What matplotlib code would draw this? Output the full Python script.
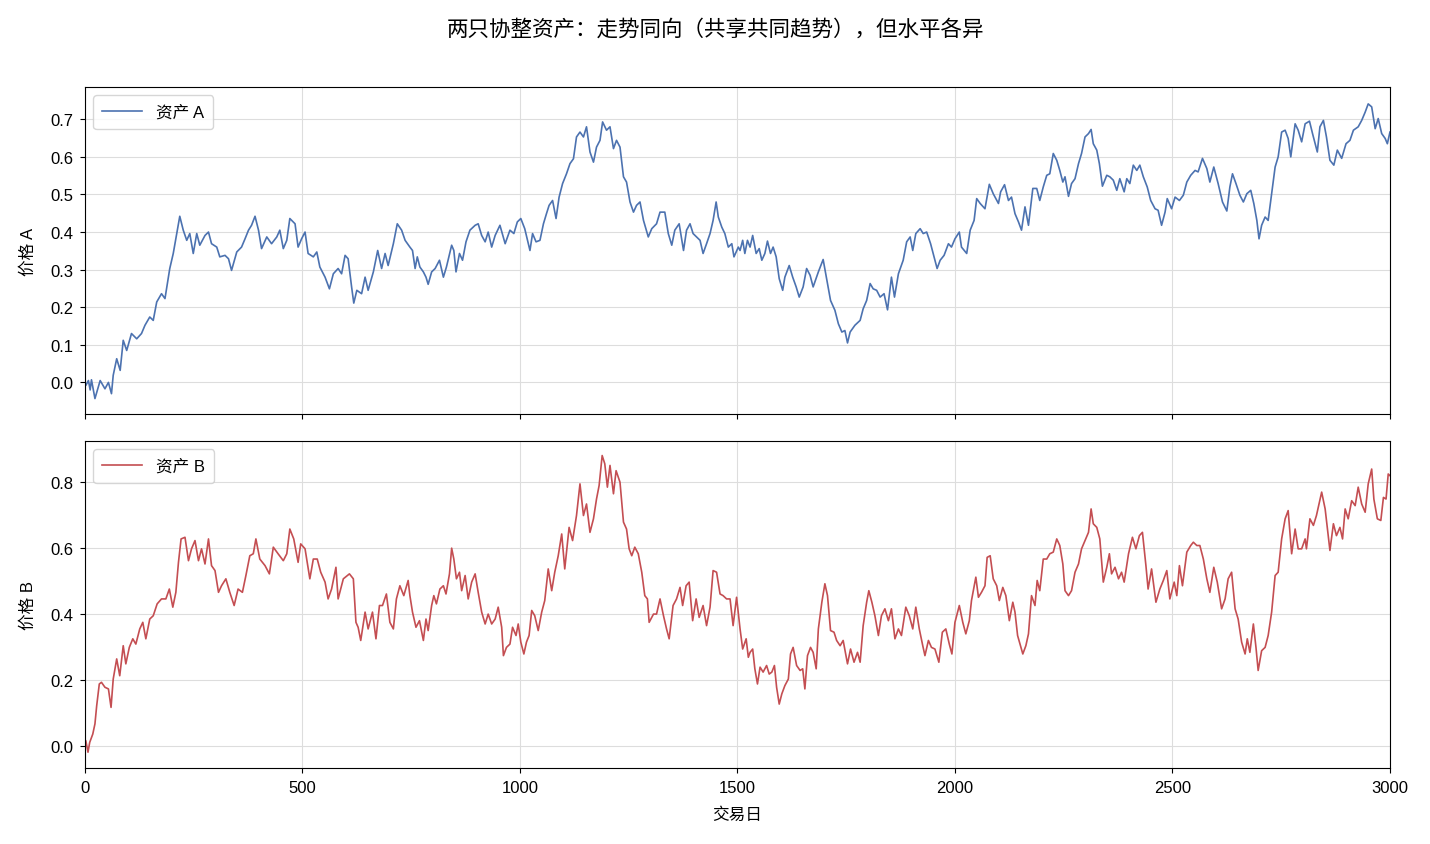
import matplotlib
matplotlib.use("Agg")
import matplotlib.pyplot as plt

plt.rcParams['font.family'] = ['Liberation Sans', 'Noto Sans CJK SC', 'DejaVu Sans']
plt.rcParams['axes.unicode_minus'] = False

title = "两只协整资产：走势同向（共享共同趋势），但水平各异"
xlabel = "交易日"
ylabel_a = "价格 A"
ylabel_b = "价格 B"
label_a = "资产 A"
label_b = "资产 B"

days_a = [0, 2, 8, 12, 15, 23, 35, 46, 54, 61, 65, 73, 81, 88, 96, 107, 119, 130, 138, 149, 157, 165, 176, 184,
          195, 203, 211, 218, 226, 234, 241, 249, 257, 264, 276, 284, 291, 303, 310, 322, 330, 337, 349, 360,
          368, 376, 383, 391, 399, 406, 418, 429, 441, 448, 456, 464, 471, 483, 490, 498, 506, 513, 525, 533,
          540, 552, 562, 571, 582, 590, 598, 605, 613, 618, 625, 636, 644, 651, 663, 673, 682, 690, 697, 709,
          718, 728, 736, 747,
          753, 759, 764, 770, 778, 784, 789, 797, 805, 815, 824, 831, 843, 848, 853, 861, 868, 876, 885, 897,
          904, 912, 920, 927, 935, 943, 954, 966, 977, 986, 994, 1002, 1011, 1023, 1029, 1037, 1046, 1054,
          1061, 1067, 1075, 1083, 1090, 1098, 1107, 1115, 1123, 1130, 1138, 1146, 1153, 1161, 1169, 1176,
          1184, 1190, 1199, 1207, 1215, 1222, 1230, 1238, 1245, 1253, 1261, 1268, 1276, 1284, 1295, 1303,
          1314, 1322, 1333, 1341, 1349, 1356, 1366, 1376, 1383, 1391, 1398, 1406, 1414, 1421, 1429, 1437,
          1444, 1451, 1456, 1464, 1471, 1479, 1487, 1492, 1502,
          1506, 1512, 1517, 1523, 1529, 1535, 1543, 1550, 1556, 1563, 1569, 1576, 1582, 1589, 1596, 1604,
          1609, 1619, 1627, 1635, 1642, 1651, 1659, 1667, 1674, 1686, 1697, 1707, 1714, 1724, 1732, 1740,
          1747, 1753, 1759, 1770, 1782, 1789, 1797, 1805, 1812, 1820, 1828, 1837, 1845, 1854, 1861, 1870,
          1881, 1889, 1897, 1903, 1910, 1920, 1927, 1935, 1944, 1950, 1959, 1966, 1975, 1985, 1992, 2000,
          2010, 2015, 2027, 2035, 2044, 2050, 2058, 2069, 2079, 2088, 2100, 2105, 2114, 2123, 2130, 2138,
          2146, 2153, 2161, 2169, 2179, 2188, 2195, 2203, 2211, 2218, 2226, 2234,
          2241, 2248, 2253, 2261, 2268, 2276, 2284, 2291, 2299, 2307, 2313, 2318, 2326, 2332, 2339, 2349,
          2356, 2364, 2372, 2379, 2389, 2395, 2402, 2410, 2418, 2425, 2433, 2442, 2450, 2460, 2467, 2475,
          2483, 2488, 2498, 2506, 2516, 2525, 2533, 2542, 2552, 2559, 2569, 2579, 2586, 2595, 2605, 2615,
          2625, 2632, 2638, 2646, 2655, 2663, 2671, 2680, 2687, 2694, 2699, 2705, 2713, 2720, 2728, 2736,
          2743, 2751, 2759, 2766, 2772, 2782, 2789, 2797, 2805, 2815, 2822, 2833, 2839, 2847, 2854, 2862,
          2871, 2879, 2889, 2899, 2908, 2916, 2927, 2935, 2943, 2950, 2958, 2966, 2973, 2981, 2989, 2994, 3000]

price_a = [0.0, -0.008, 0.005, -0.02, 0.007, -0.043, 0.005, -0.017, 0.0, -0.03, 0.019, 0.063, 0.032, 0.112,
           0.085, 0.13, 0.116, 0.13, 0.152, 0.174, 0.165, 0.214, 0.236, 0.223, 0.303, 0.343, 0.396, 0.442,
           0.405, 0.378, 0.396, 0.343, 0.396, 0.365, 0.391, 0.40, 0.369, 0.36, 0.334, 0.338, 0.329, 0.298,
           0.347, 0.36, 0.382, 0.405, 0.418, 0.442, 0.405, 0.356, 0.387, 0.369, 0.387, 0.405, 0.356, 0.378,
           0.436, 0.422, 0.36, 0.382, 0.40, 0.343, 0.334, 0.347, 0.307, 0.28, 0.249, 0.289, 0.303, 0.289,
           0.338, 0.329, 0.254, 0.211, 0.245, 0.236, 0.28, 0.245, 0.294, 0.351, 0.303, 0.343, 0.311, 0.369,
           0.422, 0.405, 0.378, 0.36,
           0.351, 0.303, 0.334, 0.307, 0.294, 0.28, 0.261, 0.294, 0.303, 0.325, 0.28, 0.307, 0.365, 0.351,
           0.294, 0.343, 0.325, 0.374, 0.405, 0.418, 0.422, 0.391, 0.374, 0.40, 0.36, 0.391, 0.418, 0.369,
           0.405, 0.396, 0.427, 0.436, 0.409, 0.351, 0.396, 0.374, 0.378, 0.422, 0.449, 0.471, 0.484, 0.436,
           0.493, 0.529, 0.555, 0.582, 0.595, 0.653, 0.666, 0.653, 0.68, 0.613, 0.586, 0.626, 0.644, 0.693,
           0.671, 0.68, 0.622, 0.644, 0.626, 0.547, 0.533, 0.48, 0.453, 0.471, 0.48, 0.431, 0.387, 0.409,
           0.422, 0.453, 0.453, 0.396, 0.365, 0.405, 0.422, 0.351, 0.405, 0.422, 0.396, 0.387, 0.378, 0.343,
           0.369, 0.396, 0.431, 0.48, 0.44, 0.413, 0.396, 0.36, 0.369, 0.334, 0.36,
           0.351, 0.378, 0.343, 0.378, 0.36, 0.391, 0.343, 0.356, 0.325, 0.343, 0.376, 0.343, 0.36, 0.334,
           0.276, 0.245, 0.28, 0.311, 0.28, 0.254, 0.227, 0.254, 0.303, 0.285, 0.254, 0.294, 0.327, 0.263,
           0.218, 0.192, 0.156, 0.134, 0.138, 0.105, 0.134, 0.152, 0.165, 0.196, 0.218, 0.263, 0.249, 0.245,
           0.227, 0.236, 0.193, 0.28, 0.227, 0.289, 0.325, 0.374, 0.387, 0.351, 0.396, 0.409, 0.396, 0.40,
           0.369, 0.343, 0.303, 0.325, 0.338, 0.369, 0.36, 0.382, 0.40, 0.36, 0.343, 0.405, 0.431, 0.489,
           0.476, 0.462, 0.527, 0.502, 0.476, 0.507, 0.526, 0.484, 0.493, 0.449, 0.427, 0.405, 0.467, 0.418,
           0.516, 0.516, 0.484, 0.52, 0.551, 0.555, 0.609, 0.591,
           0.564, 0.533, 0.547, 0.495, 0.529, 0.542, 0.582, 0.609, 0.653, 0.662, 0.673, 0.635, 0.618, 0.582,
           0.522, 0.551, 0.547, 0.538, 0.511, 0.542, 0.507, 0.542, 0.529, 0.578, 0.564, 0.578, 0.547, 0.52,
           0.484, 0.462, 0.458, 0.418, 0.453, 0.489, 0.462, 0.493, 0.484, 0.498, 0.533, 0.551, 0.564, 0.56,
           0.596, 0.569, 0.533, 0.573, 0.529, 0.48, 0.456, 0.52, 0.555, 0.529, 0.498, 0.48, 0.502, 0.511,
           0.476, 0.431, 0.382, 0.418, 0.44, 0.431, 0.502, 0.573, 0.60, 0.666, 0.671, 0.649, 0.60, 0.688,
           0.671, 0.64, 0.688, 0.695, 0.662, 0.613, 0.68, 0.697, 0.653, 0.591, 0.578, 0.618, 0.596, 0.635,
           0.644, 0.671, 0.68, 0.697, 0.719, 0.741, 0.733, 0.675, 0.702, 0.662, 0.649, 0.635, 0.666]

days_b = [0, 2, 7, 11, 18, 23, 27, 33, 38, 46, 54, 60, 65, 73, 80, 88, 94, 102, 110, 117, 126, 133, 140, 149,
          157, 166, 176, 186, 194, 202, 209, 215, 221, 230, 238, 245, 253, 261, 268, 276, 284, 291, 299, 307,
          314, 324, 333, 343, 352, 362, 370, 379, 387, 393, 402, 414, 424, 433, 444, 456, 464, 471, 480, 490,
          496, 506, 517, 525, 534, 542, 552, 559, 567, 577, 582, 594, 608, 617, 623, 628, 634, 644, 651, 661,
          669, 677, 684, 693, 701, 709, 716, 724, 733, 743,
          747, 753, 761, 769, 778, 784, 789, 797, 802, 808, 816, 824, 830, 838, 843, 848, 854, 861, 866, 874,
          881, 889, 897, 904, 912, 920, 927, 935, 943, 950, 958, 962, 969, 977, 983, 991, 996, 1002, 1009,
          1015, 1021, 1027, 1034, 1042, 1050, 1057, 1065, 1073, 1080, 1088, 1096, 1103, 1113, 1121, 1130,
          1138, 1146, 1153, 1161, 1169, 1176, 1182, 1189, 1195, 1201, 1207, 1215, 1221, 1230, 1238, 1245,
          1251, 1257, 1264, 1272, 1280, 1287, 1293, 1297, 1307, 1314, 1322, 1330, 1337, 1343, 1352, 1360,
          1368, 1374, 1382, 1389, 1397, 1405, 1412, 1421, 1429, 1437, 1444, 1452, 1460, 1467, 1475, 1483,
          1490, 1498, 1506, 1512, 1520, 1525,
          1529, 1535, 1540, 1546, 1552, 1559, 1567, 1573, 1579, 1585, 1590, 1596, 1602, 1609, 1617, 1622,
          1628, 1636, 1644, 1650, 1655, 1661, 1668, 1674, 1681, 1686, 1694, 1701, 1707, 1714, 1722, 1728,
          1736, 1743, 1753, 1760, 1768, 1776, 1782, 1789, 1797, 1802, 1809, 1816, 1824, 1831, 1839, 1847,
          1854, 1862, 1870, 1877, 1887, 1895, 1903, 1910, 1918, 1926, 1931, 1939, 1946, 1954, 1963, 1971,
          1979, 1987, 1993, 2000, 2010, 2018, 2025, 2033, 2038, 2048, 2054, 2061, 2069, 2074, 2081, 2088,
          2096, 2102, 2110, 2117, 2125, 2133, 2138, 2144, 2156, 2163, 2169, 2176, 2184, 2189, 2195, 2203,
          2211, 2218, 2226, 2234,
          2241, 2248, 2253, 2261, 2268, 2276, 2284, 2291, 2299, 2307, 2313, 2318, 2326, 2333, 2341, 2349,
          2355, 2360, 2368, 2376, 2383, 2389, 2399, 2408, 2416, 2424, 2431, 2439, 2444, 2452, 2462, 2471,
          2479, 2487, 2494, 2504, 2510, 2516, 2523, 2533, 2542, 2548, 2556, 2563, 2571, 2579, 2586, 2595,
          2603, 2613, 2621, 2628, 2636, 2644, 2651, 2659, 2667, 2672, 2678, 2686, 2692, 2697, 2705, 2713,
          2720, 2728, 2736, 2743, 2751, 2759, 2766, 2774, 2782, 2789, 2797, 2805, 2808, 2816, 2824, 2831,
          2843, 2851, 2862, 2870, 2877, 2885, 2891, 2897, 2904, 2912, 2920, 2927, 2935, 2943, 2950, 2958,
          2963, 2971, 2979, 2985, 2991, 2996, 3000]

price_b = [0.0, 0.016, -0.019, 0.011, 0.036, 0.067, 0.122, 0.188, 0.193, 0.178, 0.173, 0.117, 0.203, 0.264,
           0.213, 0.304, 0.249, 0.299, 0.325, 0.309, 0.355, 0.375, 0.325, 0.385, 0.395, 0.431, 0.446, 0.446,
           0.476, 0.421, 0.466, 0.557, 0.628, 0.633, 0.562, 0.598, 0.623, 0.562, 0.598, 0.552, 0.628, 0.547,
           0.532, 0.466, 0.486, 0.507, 0.466, 0.426, 0.476, 0.466, 0.517, 0.577, 0.583, 0.628, 0.567, 0.547,
           0.522, 0.603, 0.583, 0.562, 0.583, 0.658, 0.628, 0.557, 0.613, 0.598, 0.507, 0.567, 0.567, 0.527,
           0.497, 0.446, 0.476, 0.542, 0.446, 0.507, 0.522, 0.507, 0.375, 0.36, 0.32, 0.406, 0.355, 0.406,
           0.325, 0.426, 0.426, 0.461, 0.375, 0.355, 0.446, 0.486, 0.456, 0.502,
           0.456, 0.406, 0.36, 0.38, 0.32, 0.385, 0.35, 0.426, 0.456, 0.431, 0.476, 0.486, 0.461, 0.522, 0.60,
           0.567, 0.507, 0.527, 0.471, 0.517, 0.446, 0.497, 0.522, 0.466, 0.406, 0.37, 0.40, 0.37, 0.385,
           0.421, 0.36, 0.274, 0.299, 0.309, 0.36, 0.335, 0.37, 0.315, 0.279, 0.315, 0.335, 0.411, 0.395,
           0.35, 0.406, 0.441, 0.537, 0.471, 0.527, 0.577, 0.643, 0.537, 0.663, 0.623, 0.699, 0.795, 0.699,
           0.734, 0.648, 0.689, 0.749, 0.79, 0.881, 0.856, 0.785, 0.851, 0.765, 0.835, 0.80, 0.679, 0.658,
           0.598, 0.577, 0.603, 0.583, 0.527, 0.456, 0.446, 0.375, 0.40, 0.40, 0.446, 0.395, 0.355, 0.325,
           0.426, 0.446, 0.481, 0.426, 0.486, 0.497, 0.38, 0.446, 0.39, 0.426, 0.365, 0.421, 0.532, 0.527,
           0.461, 0.456, 0.446, 0.446, 0.365, 0.451, 0.355, 0.294, 0.325, 0.269,
           0.284, 0.294, 0.234, 0.188, 0.239, 0.224, 0.244, 0.218, 0.224, 0.244, 0.178, 0.127, 0.158, 0.183,
           0.203, 0.279, 0.299, 0.244, 0.229, 0.234, 0.173, 0.274, 0.299, 0.284, 0.234, 0.355, 0.436, 0.492,
           0.456, 0.35, 0.345, 0.32, 0.304, 0.32, 0.249, 0.294, 0.254, 0.284, 0.254, 0.365, 0.436, 0.471,
           0.436, 0.395, 0.335, 0.395, 0.416, 0.38, 0.416, 0.325, 0.355, 0.335, 0.421, 0.395, 0.355, 0.421,
           0.355, 0.304, 0.274, 0.32, 0.299, 0.294, 0.254, 0.345, 0.355, 0.309, 0.279, 0.375, 0.426, 0.375,
           0.34, 0.38, 0.441, 0.512, 0.451, 0.466, 0.486, 0.572, 0.577, 0.507, 0.486, 0.441, 0.481, 0.456,
           0.38, 0.436, 0.406, 0.335, 0.279, 0.304, 0.34, 0.456, 0.426, 0.502, 0.471, 0.567, 0.567, 0.583,
           0.588, 0.628,
           0.608, 0.552, 0.471, 0.456, 0.471, 0.527, 0.552, 0.598, 0.623, 0.648, 0.719, 0.674, 0.663, 0.628,
           0.497, 0.542, 0.583, 0.522, 0.542, 0.507, 0.527, 0.497, 0.583, 0.633, 0.598, 0.638, 0.648, 0.547,
           0.476, 0.537, 0.436, 0.476, 0.502, 0.532, 0.446, 0.497, 0.456, 0.547, 0.486, 0.588, 0.608, 0.618,
           0.608, 0.608, 0.567, 0.507, 0.466, 0.542, 0.497, 0.416, 0.446, 0.507, 0.527, 0.416, 0.385, 0.315,
           0.279, 0.325, 0.284, 0.37, 0.299, 0.229, 0.289, 0.299, 0.335, 0.406, 0.517, 0.527, 0.628, 0.689,
           0.714, 0.583, 0.658, 0.598, 0.598, 0.628, 0.598, 0.689, 0.669, 0.699, 0.77, 0.719, 0.593, 0.674,
           0.638, 0.663, 0.628, 0.719, 0.689, 0.744, 0.729, 0.785, 0.734, 0.709, 0.795, 0.84, 0.749, 0.689,
           0.684, 0.754, 0.749, 0.825, 0.82]

color_a = "#4c72b0"
color_b = "#c44e52"

fig = plt.figure(figsize=(14.3, 8.45), dpi=100)
ax1 = fig.add_axes([0.0594, 0.5089, 0.9126, 0.3870])
ax2 = fig.add_axes([0.0594, 0.0899, 0.9126, 0.3870], sharex=ax1)

for ax, d, p, c, lab, yl in [(ax1, days_a, price_a, color_a, label_a, ylabel_a),
                             (ax2, days_b, price_b, color_b, label_b, ylabel_b)]:
    ax.plot(d, p, color=c, linewidth=1.2, label=lab)
    ax.grid(True, color="#dddddd", linewidth=0.8)
    ax.set_axisbelow(True)
    ax.set_ylabel(yl, fontsize=12, labelpad=10)
    ax.tick_params(labelsize=12, pad=5)
    leg = ax.legend(loc="upper left", fontsize=12, frameon=True, fancybox=True,
                    handlelength=2.4, borderpad=0.55)
    leg.get_frame().set_edgecolor("#cccccc")

ax1.set_xlim(0, 3000)
ax1.set_ylim(-0.084, 0.786)
ax1.set_yticks([0.0, 0.1, 0.2, 0.3, 0.4, 0.5, 0.6, 0.7])
ax2.set_ylim(-0.067, 0.925)
ax2.set_yticks([0.0, 0.2, 0.4, 0.6, 0.8])
ax2.set_xticks([0, 500, 1000, 1500, 2000, 2500, 3000])
plt.setp(ax1.get_xticklabels(), visible=False)
ax2.set_xlabel(xlabel, fontsize=12, labelpad=8)

fig.suptitle(title, fontsize=15.5, y=0.977)

fig.savefig("out.png", dpi=100)
